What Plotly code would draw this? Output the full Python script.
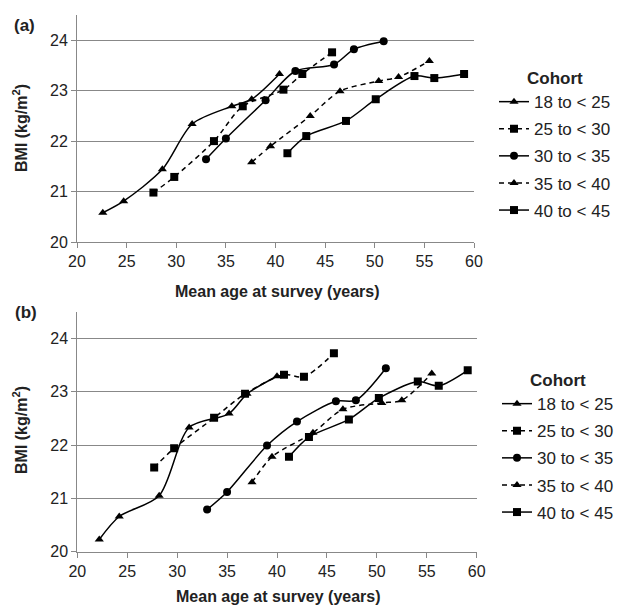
import plotly.graph_objects as go

W, H = 622, 606

cohorts = ["18 to < 25", "25 to < 30", "30 to < 35", "35 to < 40", "40 to < 45"]
symbols = ["triangle-up", "square", "circle", "triangle-up", "square"]
dashes = ["solid", "5px,4px", "solid", "5px,4px", "solid"]

# Panel (a)
age_a = [
    [22.6, 24.7, 28.6, 31.6, 35.6, 37.6, 40.4],
    [27.7, 29.8, 33.8, 36.7, 40.8, 42.7, 45.7],
    [33.0, 35.0, 39.0, 42.0, 45.9, 47.9, 50.9],
    [37.6, 39.5, 43.5, 46.5, 50.4, 52.4, 55.5],
    [41.2, 43.1, 47.1, 50.1, 54.0, 56.0, 59.0],
]
bmi_a = [
    [20.58, 20.81, 21.44, 22.34, 22.69, 22.83, 23.33],
    [20.98, 21.29, 22.00, 22.69, 23.02, 23.33, 23.76],
    [21.64, 22.05, 22.81, 23.39, 23.52, 23.82, 23.98],
    [21.58, 21.90, 22.50, 22.99, 23.19, 23.27, 23.59],
    [21.76, 22.10, 22.40, 22.83, 23.29, 23.25, 23.33],
]

# Panel (b)
age_b = [
    [22.2, 24.2, 28.2, 31.2, 35.2, 37.0, 40.0],
    [27.7, 29.7, 33.7, 36.8, 40.7, 42.7, 45.7],
    [33.0, 35.0, 39.0, 42.0, 45.9, 47.9, 50.9],
    [37.5, 39.5, 43.6, 46.6, 50.5, 52.5, 55.5],
    [41.2, 43.2, 47.2, 50.2, 54.1, 56.2, 59.1],
]
bmi_b = [
    [20.23, 20.66, 21.05, 22.33, 22.59, 22.96, 23.29],
    [21.58, 21.94, 22.51, 22.96, 23.32, 23.28, 23.72],
    [20.79, 21.12, 21.99, 22.44, 22.82, 22.84, 23.44],
    [21.30, 21.78, 22.23, 22.67, 22.79, 22.84, 23.34],
    [21.78, 22.15, 22.48, 22.88, 23.19, 23.11, 23.40],
]

x_ticks = [20, 25, 30, 35, 40, 45, 50, 55, 60]
y_ticks = [20, 21, 22, 23, 24]

FONT = "Arial, Liberation Sans, sans-serif"
TXT = "#222222"


def px(x):
    return x / W


def py(y):
    return 1 - y / H


fig = go.Figure()

for i, name in enumerate(cohorts):
    fig.add_trace(go.Scatter(
        x=age_a[i], y=bmi_a[i], name=name, mode="lines+markers",
        line=dict(color="black", width=1.5, dash=dashes[i], shape="spline", smoothing=0.8),
        marker=dict(symbol=symbols[i], size=8, color="black"),
        xaxis="x", yaxis="y", legend="legend", legendgroup="a%d" % i,
    ))
for i, name in enumerate(cohorts):
    fig.add_trace(go.Scatter(
        x=age_b[i], y=bmi_b[i], name=name, mode="lines+markers",
        line=dict(color="black", width=1.5, dash=dashes[i], shape="spline", smoothing=0.8),
        marker=dict(symbol=symbols[i], size=8, color="black"),
        xaxis="x2", yaxis="y2", legend="legend2", legendgroup="b%d" % i,
    ))

axis_common = dict(
    showline=True, linecolor="#888888", linewidth=1,
    ticks="outside", ticklen=5, tickcolor="#888888",
    tickfont=dict(family=FONT, size=16, color=TXT),
    zeroline=False, automargin=False,
)

xa = dict(range=[20, 60], tickvals=x_ticks, showgrid=False, **axis_common)
ya = dict(range=[20, 24.5], tickvals=y_ticks, showgrid=True, gridcolor="#888888", gridwidth=1, **axis_common)

legend_common = dict(
    font=dict(family=FONT, size=17, color=TXT),
    bgcolor="rgba(0,0,0,0)",
    xanchor="left", yanchor="top",
    itemwidth=30, tracegroupgap=2,
)

fig.update_layout(
    width=W, height=H,
    margin=dict(l=0, r=0, t=0, b=0, autoexpand=False),
    paper_bgcolor="white", plot_bgcolor="white",
    xaxis=dict(domain=[px(77), px(474)], anchor="y", **xa),
    yaxis=dict(domain=[py(242), py(15)], anchor="x", **ya),
    xaxis2=dict(domain=[px(77.3), px(476.7)], anchor="y2", **xa),
    yaxis2=dict(domain=[py(551.7), py(311.7)], anchor="x2", **ya),
    legend=dict(x=px(494), y=py(62),
                title=dict(text="<b>Cohort</b>", side="top center", font=dict(family=FONT, size=17, color=TXT)),
                **legend_common),
    legend2=dict(x=px(497), y=py(364),
                 title=dict(text="<b>Cohort</b>", side="top center", font=dict(family=FONT, size=17, color=TXT)),
                 **legend_common),
    showlegend=True,
)

annots = [
    dict(text="<b>(a)</b>", x=px(12), y=py(25), xanchor="left", yanchor="middle", size=17),
    dict(text="<b>(b)</b>", x=px(13), y=py(312), xanchor="left", yanchor="middle", size=17),
    dict(text="<b>BMI (kg/m<sup>2</sup>)</b>", x=px(20), y=py(128), textangle=-90, xanchor="center", yanchor="middle", size=16),
    dict(text="<b>BMI (kg/m<sup>2</sup>)</b>", x=px(20), y=py(430), textangle=-90, xanchor="center", yanchor="middle", size=16),
    dict(text="<b>Mean age at survey (years)</b>", x=px(277), y=py(291), xanchor="center", yanchor="middle", size=16),
    dict(text="<b>Mean age at survey (years)</b>", x=px(278), y=py(596), xanchor="center", yanchor="middle", size=16),
]
for a in annots:
    sz = a.pop("size")
    fig.add_annotation(xref="paper", yref="paper", showarrow=False,
                       font=dict(family=FONT, size=sz, color=TXT), **a)

# remove the browser's default 8px body margin so the figure fills the page exactly
fig.write_html("out.html",
               config={"displayModeBar": False},
               post_script="document.body.style.margin='0';document.body.style.overflow='hidden';")
